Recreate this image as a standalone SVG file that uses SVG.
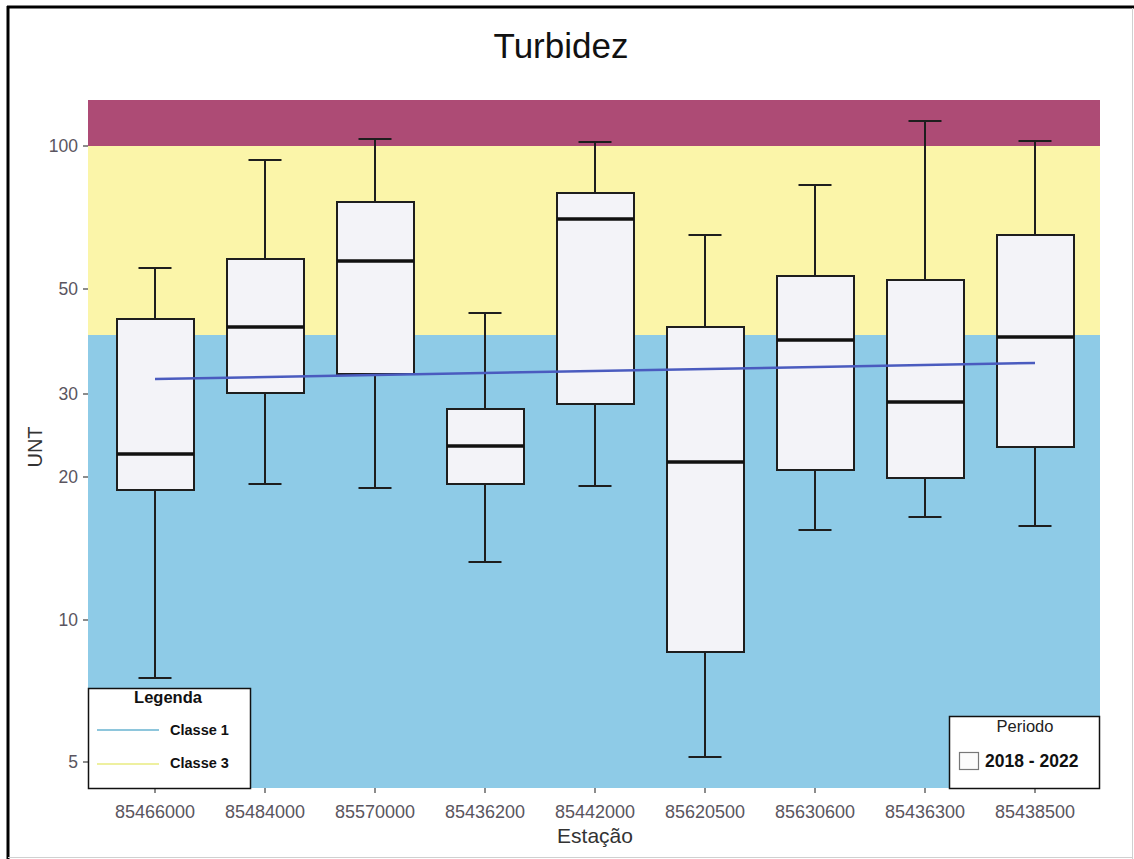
<svg xmlns="http://www.w3.org/2000/svg" width="1134" height="859" viewBox="0 0 1134 859">
<style>
.box{fill:#f3f3f8;stroke:#1e1e1e;stroke-width:2}
.wh{stroke:#1e1e1e;stroke-width:2;fill:none}
.med{stroke:#111;stroke-width:3.5}
.tick{stroke:#666;stroke-width:1.5}
.ylab{font-family:"Liberation Sans",Arial,sans-serif;font-size:17.5px;fill:#5a5560;text-anchor:end}
.xlab{font-family:"Liberation Sans",Arial,sans-serif;font-size:18px;fill:#5a5560;text-anchor:middle}
.leg{font-family:"Liberation Sans",Arial,sans-serif;font-weight:bold;fill:#111}
</style>
<rect x="0" y="0" width="1134" height="859" fill="#ffffff"/>
<!-- frame -->
<line x1="7" y1="7" x2="1134" y2="7" stroke="#000" stroke-width="3"/>
<line x1="8" y1="6" x2="8" y2="859" stroke="#000" stroke-width="3"/>
<line x1="1132.5" y1="8" x2="1132.5" y2="859" stroke="#d0d0d0" stroke-width="1"/>
<line x1="8" y1="857.5" x2="1133" y2="857.5" stroke="#d0d0d0" stroke-width="1"/>
<text x="561" y="58" font-family="Liberation Sans, Arial, sans-serif" font-size="35" text-anchor="middle" fill="#111">Turbidez</text>
<!-- bands -->
<g id="bands">
<rect x="88" y="100" width="1012" height="46" fill="#ad4b75"/>
<rect x="88" y="146" width="1012" height="189" fill="#fbf5a9"/>
<rect x="88" y="335" width="1012" height="453" fill="#8ecbe7"/>
</g>
<!-- y axis -->
<g id="yaxis">
<line class="tick" x1="83" y1="146" x2="88" y2="146"/>
<line class="tick" x1="83" y1="289" x2="88" y2="289"/>
<line class="tick" x1="83" y1="394" x2="88" y2="394"/>
<line class="tick" x1="83" y1="477" x2="88" y2="477"/>
<line class="tick" x1="83" y1="620" x2="88" y2="620"/>
<line class="tick" x1="83" y1="762" x2="88" y2="762"/>
<text class="ylab" x="78" y="152">100</text>
<text class="ylab" x="78" y="295">50</text>
<text class="ylab" x="78" y="400">30</text>
<text class="ylab" x="78" y="483">20</text>
<text class="ylab" x="78" y="626">10</text>
<text class="ylab" x="78" y="768">5</text>
<text x="42" y="447" transform="rotate(-90 42 447)" font-family="Liberation Sans, Arial, sans-serif" font-size="20" text-anchor="middle" fill="#333">UNT</text>
</g>
<!-- x axis -->
<g id="xaxis">
<line class="tick" x1="155" y1="788" x2="155" y2="793"/>
<line class="tick" x1="265" y1="788" x2="265" y2="793"/>
<line class="tick" x1="375" y1="788" x2="375" y2="793"/>
<line class="tick" x1="485" y1="788" x2="485" y2="793"/>
<line class="tick" x1="595" y1="788" x2="595" y2="793"/>
<line class="tick" x1="705" y1="788" x2="705" y2="793"/>
<line class="tick" x1="815" y1="788" x2="815" y2="793"/>
<line class="tick" x1="925" y1="788" x2="925" y2="793"/>
<line class="tick" x1="1035" y1="788" x2="1035" y2="793"/>
<text class="xlab" x="155" y="818">85466000</text>
<text class="xlab" x="265" y="818">85484000</text>
<text class="xlab" x="375" y="818">85570000</text>
<text class="xlab" x="485" y="818">85436200</text>
<text class="xlab" x="595" y="818">85442000</text>
<text class="xlab" x="705" y="818">85620500</text>
<text class="xlab" x="815" y="818">85630600</text>
<text class="xlab" x="925" y="818">85436300</text>
<text class="xlab" x="1035" y="818">85438500</text>
<text x="595" y="843" font-family="Liberation Sans, Arial, sans-serif" font-size="21" text-anchor="middle" fill="#333">Estação</text>
</g>
<!-- boxes -->
<g id="box-85466000">
<path class="wh" d="M155 268V319M155 490V678M138.5 268H171.5M138.5 678H171.5"/>
<rect class="box" x="117" y="319" width="77" height="171"/>
<line class="med" x1="117" y1="454" x2="194" y2="454"/>
</g>
<g id="box-85484000">
<path class="wh" d="M265 160V259M265 393V484M248.5 160H281.5M248.5 484H281.5"/>
<rect class="box" x="227" y="259" width="77" height="134"/>
<line class="med" x1="227" y1="327" x2="304" y2="327"/>
</g>
<g id="box-85570000">
<path class="wh" d="M375 139V202M375 374V488M358.5 139H391.5M358.5 488H391.5"/>
<rect class="box" x="337" y="202" width="77" height="172"/>
<line class="med" x1="337" y1="261" x2="414" y2="261"/>
</g>
<g id="box-85436200">
<path class="wh" d="M485 313V409M485 484V562M468.5 313H501.5M468.5 562H501.5"/>
<rect class="box" x="447" y="409" width="77" height="75"/>
<line class="med" x1="447" y1="446" x2="524" y2="446"/>
</g>
<g id="box-85442000">
<path class="wh" d="M595 142V193M595 404V486M578.5 142H611.5M578.5 486H611.5"/>
<rect class="box" x="557" y="193" width="77" height="211"/>
<line class="med" x1="557" y1="219" x2="634" y2="219"/>
</g>
<g id="box-85620500">
<path class="wh" d="M705 235V327M705 652V757M688.5 235H721.5M688.5 757H721.5"/>
<rect class="box" x="667" y="327" width="77" height="325"/>
<line class="med" x1="667" y1="462" x2="744" y2="462"/>
</g>
<g id="box-85630600">
<path class="wh" d="M815 185V276M815 470V530M798.5 185H831.5M798.5 530H831.5"/>
<rect class="box" x="777" y="276" width="77" height="194"/>
<line class="med" x1="777" y1="340" x2="854" y2="340"/>
</g>
<g id="box-85436300">
<path class="wh" d="M925 121V280M925 478V517M908.5 121H941.5M908.5 517H941.5"/>
<rect class="box" x="887" y="280" width="77" height="198"/>
<line class="med" x1="887" y1="402" x2="964" y2="402"/>
</g>
<g id="box-85438500">
<path class="wh" d="M1035 141V235M1035 447V526M1018.5 141H1051.5M1018.5 526H1051.5"/>
<rect class="box" x="997" y="235" width="77" height="212"/>
<line class="med" x1="997" y1="337" x2="1074" y2="337"/>
</g>
<!-- trend line -->
<g id="connectors">
<line x1="155" y1="379" x2="1035" y2="363" stroke="#4a5bbf" stroke-width="2.5"/>
</g>
<!-- legends -->
<g id="legend-legenda">
<rect x="88.5" y="688.5" width="162" height="100" fill="#ffffff" stroke="#111" stroke-width="1.5"/>
<text class="leg" x="168" y="703" font-size="16.5" text-anchor="middle">Legenda</text>
<line x1="97" y1="730" x2="159" y2="730" stroke="#8ec6dc" stroke-width="2"/>
<text class="leg" x="170" y="735" font-size="14.5">Classe 1</text>
<line x1="97" y1="764" x2="159" y2="764" stroke="#eef0a0" stroke-width="2"/>
<text class="leg" x="170" y="768" font-size="14.5">Classe 3</text>
</g>
<g id="legend-periodo">
<rect x="949.5" y="716.5" width="150" height="72" fill="#ffffff" stroke="#111" stroke-width="1.5"/>
<text x="1025" y="732" font-family="Liberation Sans, Arial, sans-serif" font-size="16.5" text-anchor="middle" fill="#222">Periodo</text>
<rect x="959.5" y="752.5" width="19" height="17" fill="#fbfbfb" stroke="#777" stroke-width="1.2"/>
<text class="leg" x="985" y="767" font-size="17.5">2018 - 2022</text>
</g>
</svg>
